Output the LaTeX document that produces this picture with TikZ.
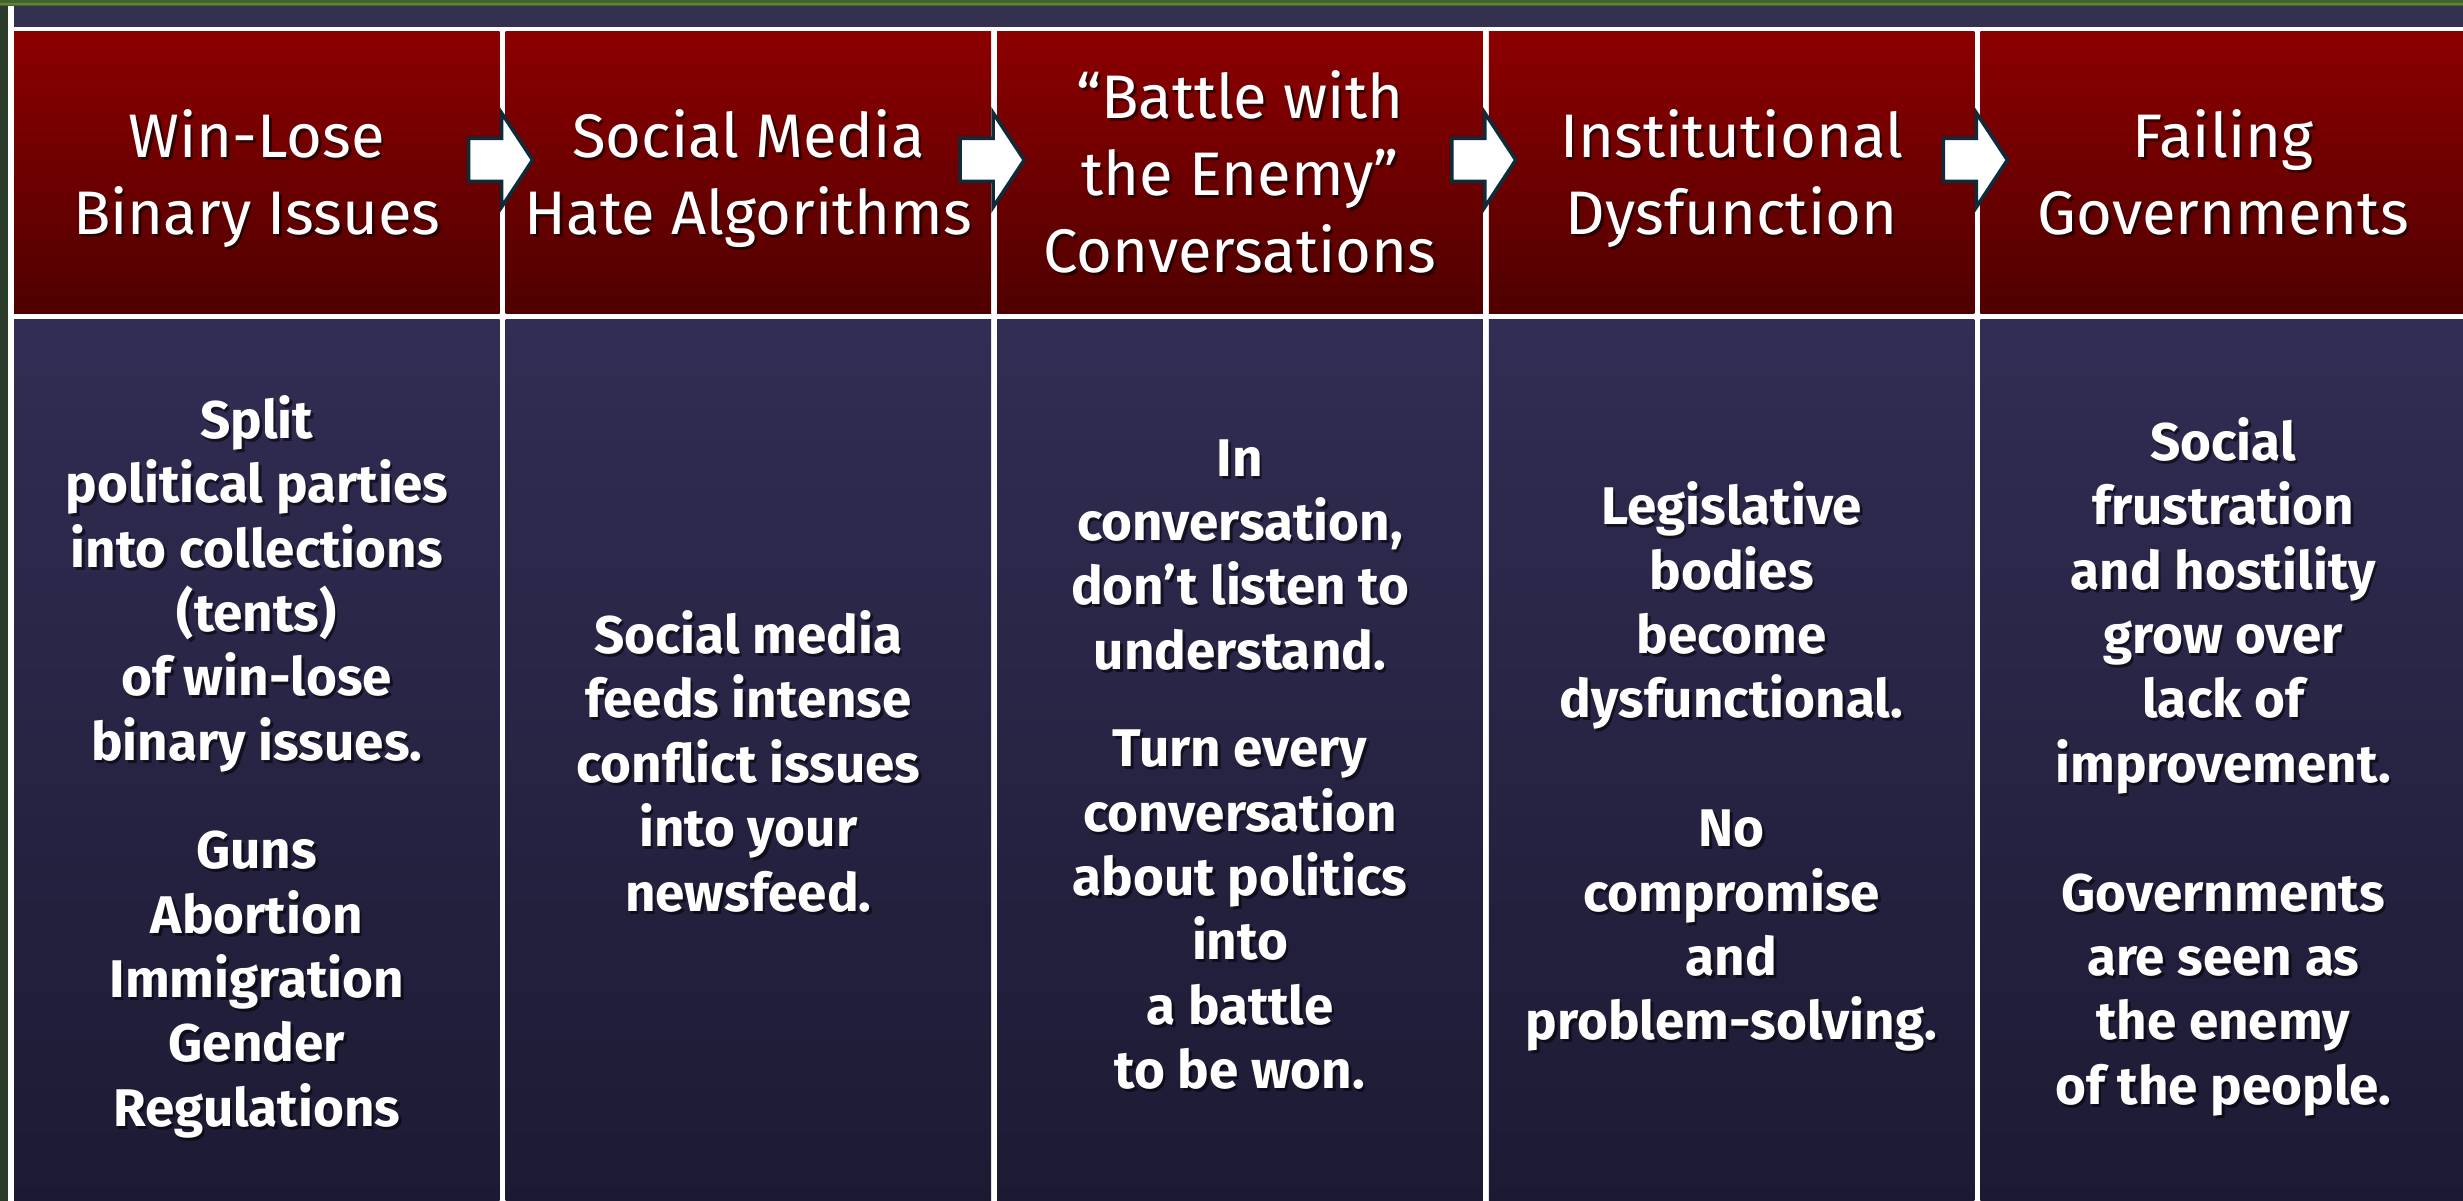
\documentclass[tikz,border=0pt]{standalone}
\usepackage{fontspec}
\setmainfont{Fira Sans}
\usetikzlibrary{calc}
\definecolor{bggreen}{HTML}{2B3C2B}
\definecolor{topgreen}{HTML}{46622F}
\definecolor{topgreenlight}{HTML}{5E803B}
\definecolor{topnavy}{HTML}{33314F}
\definecolor{hredtop}{HTML}{8C0000}
\definecolor{hredbot}{HTML}{4F0000}
\definecolor{bnavytop}{HTML}{312D54}
\definecolor{bnavybot}{HTML}{1C1A33}
\definecolor{arrowline}{HTML}{0E2B3B}
\tikzset{
  hcell/.style={rectangle, inner sep=0pt, outer sep=0pt, draw=none,
    minimum width=485.6pt, minimum height=281.5pt,
    top color=hredtop, bottom color=hredbot},
  bcell/.style={rectangle, inner sep=0pt, outer sep=0pt, draw=none,
    minimum width=485.6pt, minimum height=881.5pt,
    top color=bnavytop, bottom color=bnavybot},
  htext/.style={text=white, align=center, inner sep=0pt,
    font=\fontsize{61.5}{77}\selectfont},
  btext/.style={text=white, align=center, inner sep=0pt,
    font=\bfseries\fontsize{53}{64.4}\selectfont},
  txtshadow/.style={text=black, text opacity=0.55},
  blockarrow/.style={draw=arrowline, fill=white, line width=3.5pt, line join=miter}
}
\newcommand\shadowed[4]{%
  \node[#1, txtshadow] (#2s) at ($(#3)+(2.5,3)$) {#4};
  \node[#1] (#2) at (#3) {#4};}
\begin{document}
\begin{tikzpicture}[x=1pt, y=-1pt]
\useasboundingbox (0,0) rectangle (2463,1201);
\clip (0,0) rectangle (2463,1201);
% background
\fill[bggreen] (0,0) rectangle (2463,1201);
\fill[topgreen] (0,0) rectangle (2463,6);
\fill[topgreenlight] (0,3.5) rectangle (2463,5);
\fill[white] (8,6) rectangle (2463,1201);
\fill[topnavy] (14,6) rectangle (2463,27);
% cells
\foreach \i/\x in {1/256.8, 2/748.4, 3/1240, 4/1731.6, 5/2223.2}{
  \node[hcell] (h\i) at (\x,172.75) {};
  \node[bcell] (b\i) at (\x,760.25) {};
  \coordinate (ht\i) at (\x,180.5);
  \coordinate (bt\i) at (\x,769.5);
}
% arrows
\foreach \s [count=\k] in {502.6, 994.2, 1485.8, 1977.4}{
  \coordinate (a\k) at (\s,160);
  \draw[blockarrow, shift={(a\k)}] (-34,-21.5) -- (-1,-21.5) -- (-1,-47) -- (30,0)
     -- (-1,47) -- (-1,21.5) -- (-34,21.5) -- cycle;
}
% header texts
\shadowed{htext}{t1}{ht1}{\strut Win-Lose\\Binary Issues\strut}
\shadowed{htext}{t2}{ht2}{\strut Social Media\\Hate Algorithms\strut}
\shadowed{htext}{t3}{ht3}{\strut “Battle with\\the Enemy”\\Conversations\strut}
\shadowed{htext}{t4}{ht4}{\strut Institutional\\Dysfunction\strut}
\shadowed{htext}{t5}{ht5}{\strut Failing\\Governments\strut}
% body texts
\shadowed{btext}{d1}{bt1}{\strut Split\\political parties\\into collections\\(tents)\\of win-lose\\binary issues.\\[44pt]Guns\\Abortion\\Immigration\\Gender\\Regulations\strut}
\shadowed{btext}{d2}{bt2}{\strut Social media\\feeds intense\\conflict issues\\into your\\newsfeed.\strut}
\shadowed{btext}{d3}{bt3}{\strut In\\conversation,\\don’t listen to\\understand.\\[33pt]Turn every\\conversation\\about politics\\into\\a battle\\to be won.\strut}
\shadowed{btext}{d4}{bt4}{\strut Legislative\\bodies\\become\\dysfunctional.\\[64.4pt]No\\compromise\\and\\problem-solving.\strut}
\shadowed{btext}{d5}{bt5}{\strut Social\\frustration\\and hostility\\grow over\\lack of\\improvement.\\[64.4pt]Governments\\are seen as\\the enemy\\of the people.\strut}
\end{tikzpicture}
\end{document}
